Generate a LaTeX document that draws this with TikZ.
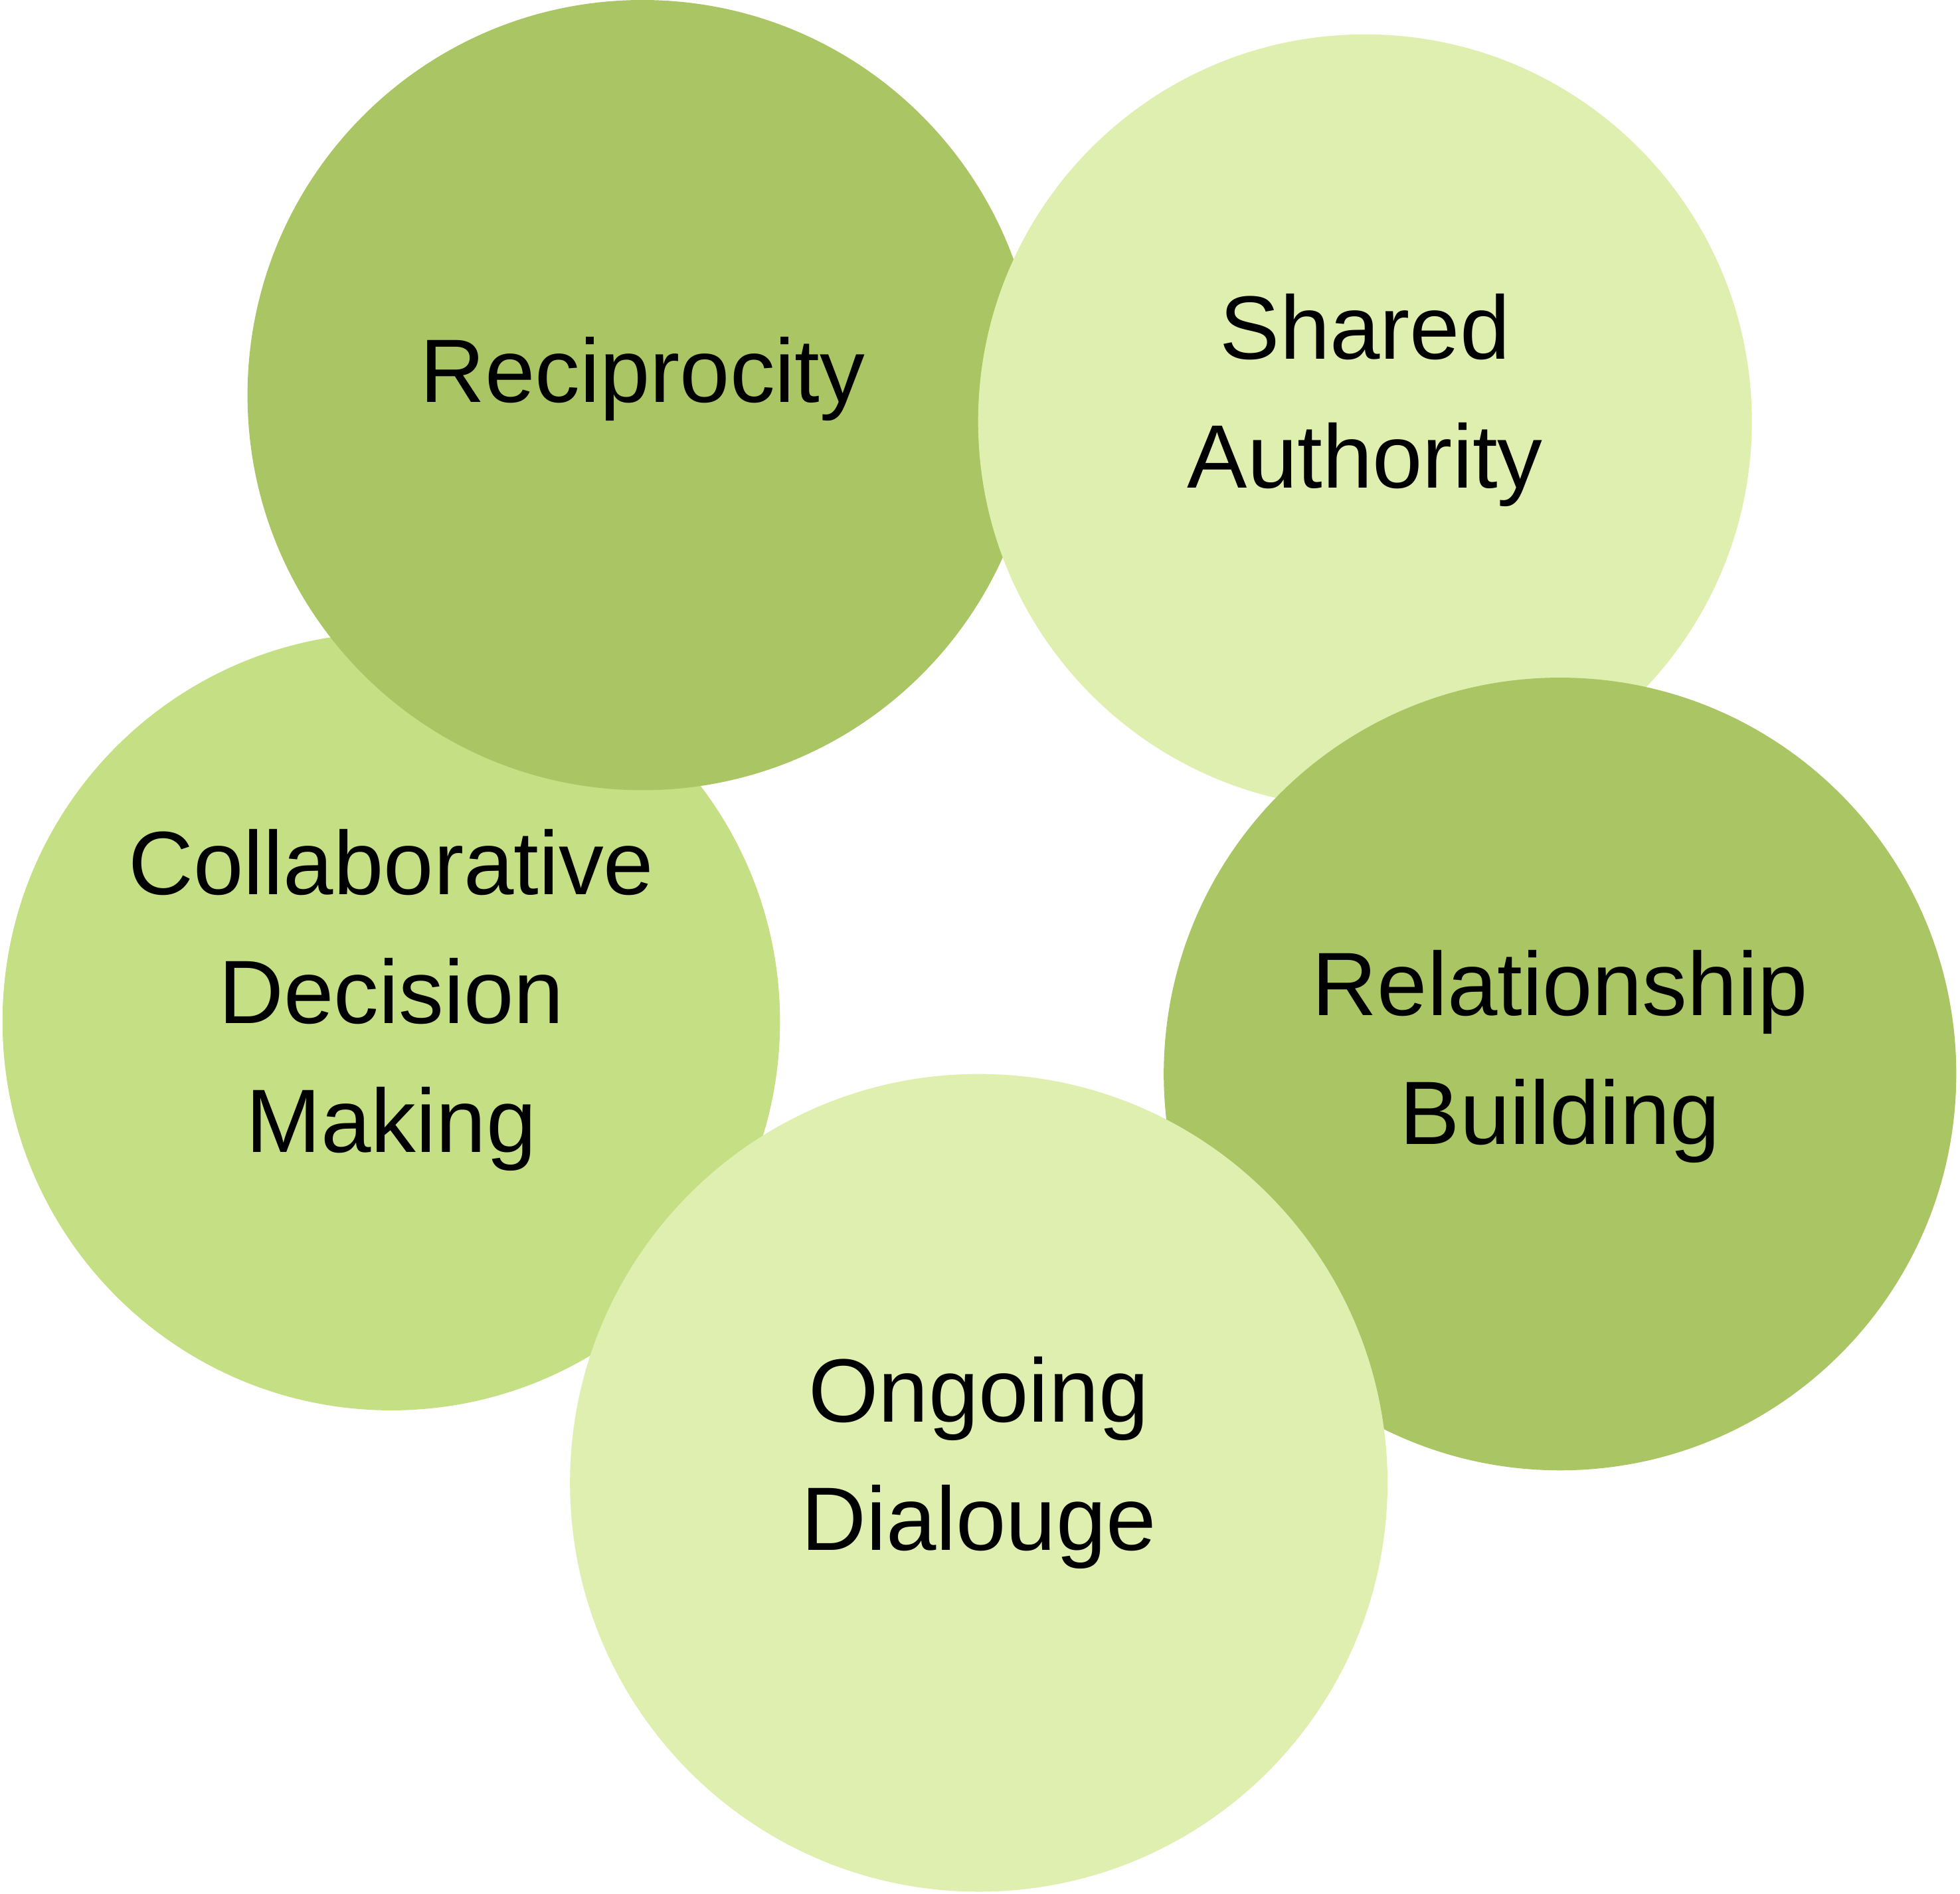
\documentclass[tikz,border=0pt]{standalone}
\usepackage{fontspec}
\setmainfont{Liberation Sans}
\definecolor{dk}{HTML}{AAC563}
\definecolor{md}{HTML}{C5DF85}
\definecolor{lt}{HTML}{DEEFB0}
\begin{document}
\begin{tikzpicture}[x=1pt,y=-1pt,
  circ/.style={circle,draw=none,minimum size=#1,inner sep=0pt},
  lab/.style={align=center,font=\fontsize{72}{103}\selectfont,text=black}]
\useasboundingbox (0,0) rectangle (1568,1514.4);
\node[circ=622pt,fill=md] (c) at (313,817) {};
\node[circ=632pt,fill=dk] (r) at (514,316) {};
\node[circ=619pt,fill=lt] (s) at (1092,337) {};
\node[circ=634pt,fill=dk] (b) at (1248,859) {};
\node[circ=654pt,fill=lt] (o) at (783,1186) {};
\node[lab] (tr) at (514,303) {Reciprocity};
\node[lab] (ts) at (1092,320) {Shared\\Authority};
\node[lab] (tc) at (313,800) {Collaborative\\Decision\\Making};
\node[lab] (tb) at (1248,845) {Relationship\\Building};
\node[lab] (to) at (783,1170) {Ongoing\\Dialouge};
\end{tikzpicture}
\end{document}
